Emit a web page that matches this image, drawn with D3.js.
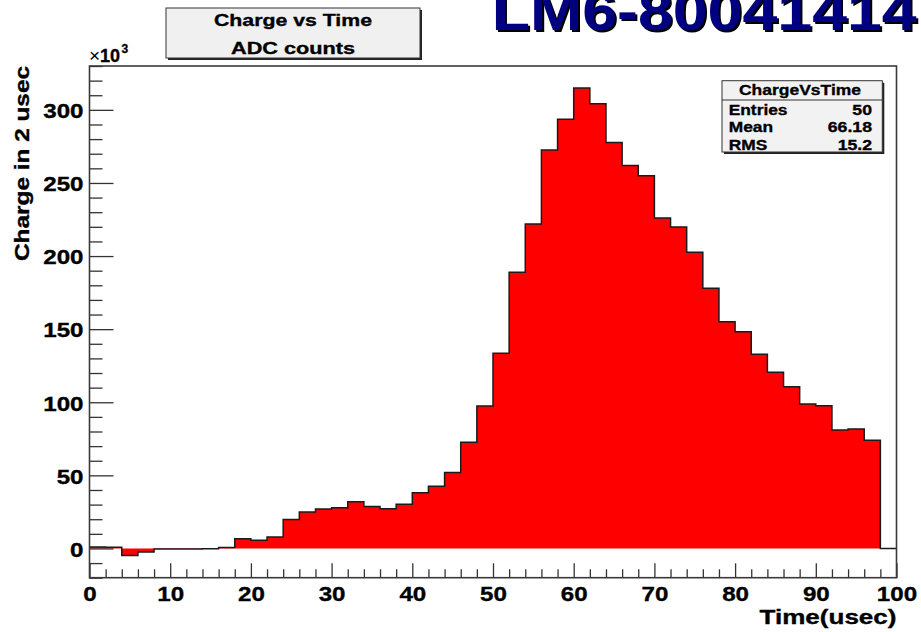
<!DOCTYPE html>
<html>
<head>
<meta charset="utf-8">
<script src="https://cdn.jsdelivr.net/npm/d3@7"></script>
<style>
  html, body { margin: 0; padding: 0; background: #fff; }
  svg { display: block; }
  text { font-family: "Liberation Sans", Arial, Helvetica, sans-serif; font-weight: bold; fill: #000;
         stroke: #000; stroke-width: 0.35px; }
  text.run { stroke: none; }
</style>
</head>
<body>
<svg id="chart" width="921" height="632"></svg>
<script>
// Histogram "ChargeVsTime": 50 bins of 2 usec, charge in units of 10^3 ADC counts
const binStarts = [0, 2, 4, 6, 8, 10, 12, 14, 16, 18, 20, 22, 24, 26, 28, 30, 32, 34, 36, 38,
                   40, 42, 44, 46, 48, 50, 52, 54, 56, 58, 60, 62, 64, 66, 68, 70, 72, 74, 76, 78,
                   80, 82, 84, 86, 88, 90, 92, 94, 96, 98];
const binWidth = 2;
const chargeK = [1.0, 0.9, -4.8, -2.5, -0.3, -0.3, -0.3, -0.2, 0.7, 6.6,
                 5.7, 7.9, 19.8, 25.0, 27.0, 27.8, 31.9, 28.7, 27.1, 30.3,
                 38.1, 42.6, 52.0, 72.7, 97.4, 133.5, 188.9, 222.0, 272.6, 293.6,
                 314.9, 304.1, 277.6, 261.9, 255.0, 226.1, 219.9, 202.6, 178.0, 155.1,
                 148.3, 132.8, 120.5, 110.6, 98.8, 97.6, 81.0, 81.7, 74.1, 0.0];
const xMajorTicks = [0, 10, 20, 30, 40, 50, 60, 70, 80, 90, 100];
const yMajorTicks = [0, 50, 100, 150, 200, 250, 300];
const xDomain = [0, 100];
const yDomain = [-20, 330];
const statsTitle = "ChargeVsTime";
const statLabels = ["Entries", "Mean", "RMS"];
const statValues = ["50", "66.18", "15.2"];
const runTitle = "LM6-80041414";
const histTitleLines = ["Charge vs Time", "ADC counts"];
const xTitle = "Time(usec)";
const yTitle = "Charge in 2 usec";

const svg = d3.select("#chart");
const frame = { left: 89.5, right: 896.5, top: 66, bottom: 577.7 };

const x = d3.scaleLinear().domain(xDomain).range([frame.left, frame.right]);
const y = d3.scaleLinear().domain(yDomain).range([frame.bottom, frame.top]);

// text placed at (px, py), stretched horizontally by sx
function label(g, px, py, str, opts = {}) {
  return g.append("text")
    .attr("transform", `translate(${px},${py}) scale(${opts.sx || 1},1)`)
    .attr("text-anchor", opts.anchor || "start")
    .style("font-size", (opts.size || 15) + "px")
    .text(str);
}
function fitted(g, px, py, str, width, size, anchor) {
  return g.append("text")
    .attr("x", px).attr("y", py)
    .attr("text-anchor", anchor || "start")
    .attr("textLength", width)
    .attr("lengthAdjust", "spacingAndGlyphs")
    .style("font-size", size + "px")
    .text(str);
}

// ---- histogram body ----
const pts = binStarts.map((t, i) => ({ t, v: chargeK[i] }));
pts.push({ t: binStarts[binStarts.length - 1] + binWidth, v: chargeK[chargeK.length - 1] });

svg.append("path")
  .datum(pts)
  .attr("fill", "#ff0000")
  .attr("d", d3.area().curve(d3.curveStepAfter)
    .x(d => x(d.t)).y0(y(0)).y1(d => y(d.v)));

svg.append("path")
  .datum(pts)
  .attr("fill", "none")
  .attr("stroke", "#1a1a1a")
  .attr("stroke-width", 1.5)
  .attr("d", d3.line().curve(d3.curveStepAfter).x(d => x(d.t)).y(d => y(d.v)));

// ---- axes (ticks point into the frame) ----
const tickStroke = "#333";
const yMinor = d3.range(Math.ceil(yDomain[0] / 10) * 10, yDomain[1] + 0.01, 10)
  .filter(v => !yMajorTicks.includes(v));
const xMinor = d3.range(xDomain[0], xDomain[1] + 0.01, 2)
  .filter(v => !xMajorTicks.includes(v));

const yAxisMinor = svg.append("g").attr("transform", `translate(${frame.left},0)`)
  .call(d3.axisLeft(y).tickValues(yMinor).tickSize(-13).tickFormat(""));
const yAxis = svg.append("g").attr("transform", `translate(${frame.left},0)`)
  .call(d3.axisLeft(y).tickValues(yMajorTicks).tickSize(-24).tickPadding(6).tickFormat(d3.format("d")));
const xAxisMinor = svg.append("g").attr("transform", `translate(0,${frame.bottom})`)
  .call(d3.axisBottom(x).tickValues(xMinor).tickSize(-8.4).tickFormat(""));
const xAxis = svg.append("g").attr("transform", `translate(0,${frame.bottom})`)
  .call(d3.axisBottom(x).tickValues(xMajorTicks).tickSize(-14.4).tickFormat(d3.format("d")));

[yAxisMinor, yAxis, xAxisMinor, xAxis].forEach(a => {
  a.select(".domain").remove();
  a.selectAll(".tick line").attr("stroke", tickStroke).attr("stroke-width", 1.3);
});
yAxis.selectAll(".tick text")
  .attr("x", null).attr("dy", "0.37em")
  .attr("transform", "translate(-6,0) scale(1.15,1)")
  .attr("fill", "#000")
  .style("font-size", "21px")
  .style("font-family", null);
xAxis.selectAll(".tick text")
  .attr("y", null).attr("dy", null)
  .attr("transform", "translate(0,23.3) scale(1.15,1)")
  .attr("fill", "#000")
  .style("font-size", "21px")
  .style("font-family", null);

// frame
svg.append("rect")
  .attr("x", frame.left).attr("y", frame.top)
  .attr("width", frame.right - frame.left).attr("height", frame.bottom - frame.top)
  .attr("fill", "none").attr("stroke", "#3a3a3a").attr("stroke-width", 1.6);

// axis titles
fitted(svg, frame.right, 624, xTitle, 137, 20.5, "end");
svg.append("text")
  .attr("transform", `translate(29,${frame.top}) rotate(-90)`)
  .attr("text-anchor", "end")
  .attr("textLength", 195)
  .attr("lengthAdjust", "spacingAndGlyphs")
  .style("font-size", "20px")
  .text(yTitle);

// exponent label: "×" + "10" + superscript "3"
label(svg, 89, 61.7, "\u00d7", { size: 19 }).style("font-weight", "normal").style("stroke", "none");
label(svg, 100, 61.7, "10", { size: 18 });
label(svg, 121.5, 53, "3", { size: 12 });

// ---- title box ----
const tb = { x: 166, y: 8, w: 254, h: 50 };
svg.append("rect").attr("x", tb.x + 2).attr("y", tb.y + 2).attr("width", tb.w).attr("height", tb.h).attr("fill", "#222");
svg.append("rect").attr("x", tb.x).attr("y", tb.y).attr("width", tb.w).attr("height", tb.h)
  .attr("fill", "#f0f0f0").attr("stroke", "#333").attr("stroke-width", 1);
fitted(svg, tb.x + tb.w / 2, 26, histTitleLines[0], 158, 17, "middle");
fitted(svg, tb.x + tb.w / 2, 54, histTitleLines[1], 124, 17, "middle");

// ---- run label with drop shadow ----
fitted(svg, 493.7, 32, runTitle, 425, 56).attr("class", "run").style("fill", "#000");
fitted(svg, 491.7, 30, runTitle, 425, 56).attr("class", "run").style("fill", "#000080");

// ---- statistics box ----
const sb = { x: 722, y: 80.7, w: 160.3, h: 71.3 };
svg.append("rect").attr("x", sb.x + 2).attr("y", sb.y + 2).attr("width", sb.w).attr("height", sb.h).attr("fill", "#222");
svg.append("rect").attr("x", sb.x).attr("y", sb.y).attr("width", sb.w).attr("height", sb.h)
  .attr("fill", "#f2f2f2").attr("stroke", "#333").attr("stroke-width", 1);
svg.append("line").attr("x1", sb.x).attr("x2", sb.x + sb.w).attr("y1", 100).attr("y2", 100)
  .attr("stroke", "#333").attr("stroke-width", 1);
fitted(svg, 800, 94.7, statsTitle, 122, 15.5, "middle");
const rowY = [114.7, 132.3, 149.7];
statLabels.forEach((s, i) => label(svg, 728.7, rowY[i], s, { size: 15.5, sx: 1.12 }));
statValues.forEach((s, i) => label(svg, 872, rowY[i], s, { size: 15.5, sx: 1.14, anchor: "end" }));
</script>
</body>
</html>
